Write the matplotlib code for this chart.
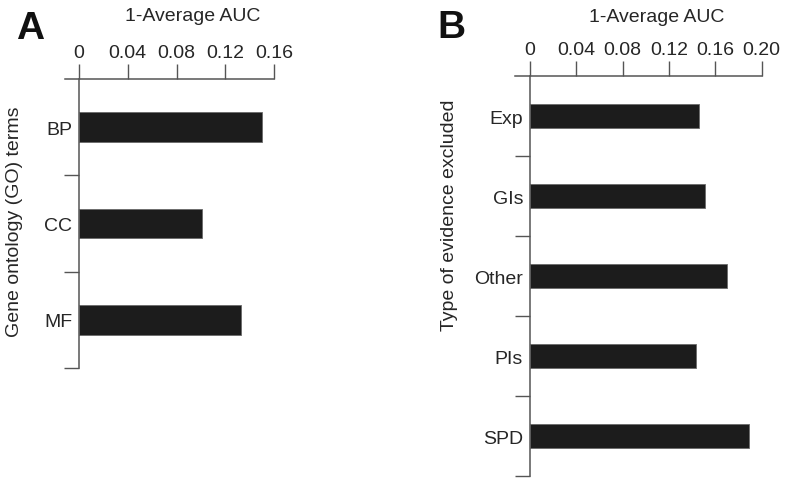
import matplotlib
matplotlib.use("Agg")
import matplotlib.pyplot as plt
import numpy as np

plt.rcParams["font.family"] = ["Liberation Sans", "DejaVu Sans"]

# Panel A: GO term categories
go_terms = ["BP", "CC", "MF"]
go_vals = [0.150, 0.101, 0.133]
go_ticks = [0, 0.04, 0.08, 0.12, 0.16]
go_ticklabels = ["0", "0.04", "0.08", "0.12", "0.16"]

# Panel B: evidence type excluded
ev_types = ["Exp", "GIs", "Other", "PIs", "SPD"]
ev_vals = [0.146, 0.151, 0.170, 0.143, 0.189]
ev_ticks = [0, 0.04, 0.08, 0.12, 0.16, 0.20]
ev_ticklabels = ["0", "0.04", "0.08", "0.12", "0.16", "0.20"]

TEXT = "#262626"
AXC = "#555555"
BAR = "#1c1c1c"

fig = plt.figure(figsize=(8, 4.85), dpi=100)


def panel(rect, cats, vals, ticks, ticklabels, xmax, xmin, bar_h,
          ylabel, ylab_pos, title_pos, tick_len):
    ax = fig.add_axes(rect)
    y = np.arange(len(cats))
    ax.barh(y, vals, bar_h, color=BAR, edgecolor="#6a6a6a", linewidth=0.6)
    ax.set_xlim(xmin, xmax)
    ax.set_ylim(len(cats) - 0.5, -0.5)

    for s in ["right", "bottom"]:
        ax.spines[s].set_visible(False)
    ax.spines["left"].set_position(("data", 0))
    for s in ["left", "top"]:
        ax.spines[s].set_color(AXC)
        ax.spines[s].set_linewidth(1.1)

    ax.xaxis.tick_top()
    ax.set_xticks(ticks)
    ax.set_xticklabels(ticklabels)
    ax.tick_params(axis="x", direction="out", length=10.8, width=1.0,
                   color=AXC, pad=2, labelsize=14, labelcolor=TEXT)

    ax.set_yticks(y)
    ax.set_yticklabels(cats)
    ax.set_yticks(np.arange(len(cats)) + 0.5, minor=True)
    ax.tick_params(axis="y", which="major", length=0, pad=5,
                   labelsize=14, labelcolor=TEXT)
    ax.tick_params(axis="y", which="minor", length=tick_len, width=1.0,
                   color=AXC, direction="out")

    ax.text(title_pos[0], title_pos[1], "1-Average AUC", transform=ax.transAxes,
            ha="center", va="center", fontsize=14, color=TEXT)
    ax.text(ylab_pos[0], ylab_pos[1], ylabel, transform=ax.transAxes,
            ha="center", va="center", rotation=90, fontsize=14, color=TEXT)
    return ax


panel([65 / 800, 116 / 485, 209 / 800, 289 / 485], go_terms, go_vals,
      go_ticks, go_ticklabels, 0.16, -0.0115, 0.31,
      "Gene ontology (GO) terms", (-0.24, 0.51), (0.61, 1.218), 10.5)

panel([515 / 800, 8 / 485, 246.7 / 800, 400 / 485], ev_types, ev_vals,
      ev_ticks, ev_ticklabels, 0.20, -0.013, 0.30,
      "Type of evidence excluded", (-0.267, 0.655), (0.576, 1.15), 10.8)

fig.text(30 / 800, 1 - 29 / 485, "A", ha="center", va="center",
         fontsize=28, fontweight="bold", color="#111111")
fig.text(451 / 800, 1 - 28.5 / 485, "B", ha="center", va="center",
         fontsize=28, fontweight="bold", color="#111111")

fig.savefig("out.png", dpi=100, facecolor="white")
